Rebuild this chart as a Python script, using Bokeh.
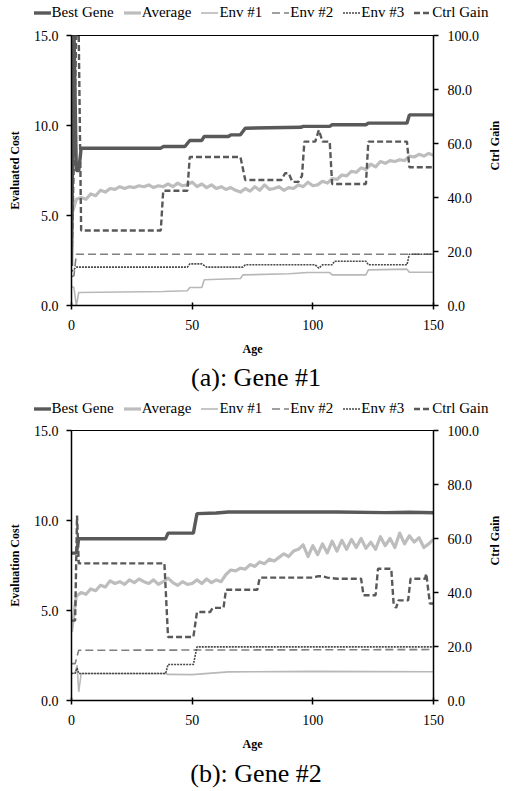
import math
from bokeh.plotting import figure
from bokeh.models import (Range1d, LinearAxis, FixedTicker, PrintfTickFormatter, Div)
from bokeh.layouts import column
from bokeh.embed import file_html
from bokeh.resources import INLINE

# ---------------- Panel (a): Gene #1 ----------------
a_best_age = [0, 1, 2, 3, 4, 37, 38, 47, 49, 54, 55, 65, 66, 70, 72, 95, 96, 107, 108, 122, 123, 139, 140, 150]
a_best = [2.2, 15.5, 7.5, 7.5, 8.74, 8.74, 8.83, 8.83, 9.17, 9.17, 9.39, 9.39, 9.48, 9.48, 9.85, 9.9, 9.95, 9.95, 10.04, 10.04, 10.13, 10.13, 10.59, 10.59]

a_avg_age = [0, 2, 4, 6, 8, 10, 12, 14, 16, 18, 20, 22, 24, 26, 28, 30, 32, 34, 36, 38, 40, 42, 44, 46, 48, 50,
             52, 54, 56, 58, 60, 62, 64, 66, 68, 70, 72, 74, 76, 78, 80, 82, 84, 86, 88, 90, 92, 94, 96, 98, 100,
             102, 104, 106, 108, 110, 112, 114, 116, 118, 120, 122, 124, 126, 128, 130, 132, 134, 136, 138, 140,
             142, 144, 146, 148, 150]
a_avg = [5.0, 5.9, 6.0, 5.9, 6.2, 6.1, 6.4, 6.3, 6.5, 6.45, 6.6, 6.5, 6.6, 6.55, 6.65, 6.6, 6.7, 6.55, 6.65, 6.6,
         6.75, 6.6, 6.8, 6.65, 6.7, 6.85, 6.6, 6.75, 6.55, 6.7, 6.5, 6.6, 6.45, 6.55, 6.4, 6.3, 6.5, 6.35, 6.6, 6.4,
         6.7, 6.45, 6.5, 6.6, 6.4, 6.55, 6.5, 6.7, 6.6, 6.85, 6.65, 6.7, 6.9, 6.8, 7.05, 7.0, 7.25, 7.2, 7.45, 7.4,
         7.65, 7.55, 7.85, 7.7, 8.0, 7.9, 8.05, 8.0, 8.1, 8.05, 8.3, 8.25, 8.4, 8.3, 8.45, 8.35]

a_env1_age = [0, 1, 2, 3, 38, 48, 49, 54, 55, 70, 71, 90, 98, 107, 108, 122, 123, 139, 140, 150]
a_env1 = [1.06, 1.0, 0.0, 0.72, 0.78, 0.82, 1.0, 1.0, 1.43, 1.5, 1.7, 1.76, 1.83, 1.83, 1.7, 1.7, 1.98, 2.02, 1.85, 1.85]

a_env2_age = [0, 1, 2, 150]
a_env2 = [1.6, 1.65, 2.85, 2.85]

a_env3_age = [0, 1, 2, 48, 49, 54, 56, 71, 72, 101, 102.5, 104, 108, 109, 122, 123, 139, 140, 150]
a_env3 = [1.9, 2.0, 2.13, 2.13, 2.31, 2.31, 2.13, 2.13, 2.26, 2.26, 2.07, 2.26, 2.26, 2.46, 2.46, 2.26, 2.26, 2.85, 2.85]

a_gain_age = [0, 1, 2, 3, 4, 37, 38, 48, 49, 70, 72, 87, 88.5, 90, 91.5, 94, 95.5, 96.5, 101, 102.5, 104, 107, 108,
              122, 123, 139, 140, 150]
a_gain = [15, 55, 104, 100, 27.8, 27.8, 42.5, 42.5, 55, 55, 46.5, 46.5, 49, 49, 45.8, 45.8, 48, 60.7, 60.7, 65, 60.7,
          60.7, 45, 45, 60.7, 60.7, 51.2, 51.2]

# ---------------- Panel (b): Gene #2 ----------------
b_best_age = [0, 2, 3, 39, 40, 50.5, 52, 60, 65, 110, 130, 140, 150]
b_best = [8.19, 8.19, 8.99, 8.99, 9.3, 9.3, 10.38, 10.42, 10.47, 10.47, 10.44, 10.46, 10.43]

b_avg_age = a_avg_age
b_avg = [3.8, 5.8, 6.0, 5.9, 6.2, 6.1, 6.4, 6.3, 6.65, 6.5, 6.6, 6.45, 6.7, 6.55, 6.75, 6.6, 6.5, 6.7, 6.45, 6.6,
         6.8, 6.55, 6.4, 6.6, 6.45, 6.5, 6.7, 6.5, 6.75, 6.55, 6.7, 6.6, 7.0, 7.25, 7.2, 7.35, 7.3, 7.55, 7.45, 7.7,
         7.6, 7.85, 7.75, 7.95, 8.15, 8.0, 8.3, 8.4, 8.65, 8.0, 8.6, 8.1, 8.7, 8.2, 8.85, 8.3, 8.9, 8.4, 8.95, 8.5,
         9.0, 8.45, 8.8, 8.4, 9.1, 8.6, 9.0, 8.5, 9.3, 8.7, 9.15, 8.8, 9.05, 8.5, 8.7, 8.95]

b_env1_age = [0, 1.5, 2.3, 3, 4, 39, 40, 50, 65, 100, 150]
b_env1 = [1.5, 1.5, 1.96, 0.48, 1.5, 1.5, 1.45, 1.44, 1.59, 1.62, 1.6]

b_env2_age = [0, 1.5, 3, 150]
b_env2 = [2.05, 2.05, 2.79, 2.83]

b_env3_age = [0, 1.5, 2.3, 3, 39, 40, 50.5, 52, 150]
b_env3 = [1.5, 1.52, 1.8, 1.5, 1.5, 2.0, 2.0, 2.98, 2.98]

b_gain_age = [0, 1.5, 2.3, 3, 38.5, 40, 50.5, 52, 57.5, 58.5, 63, 64, 77, 78, 100, 102, 104, 106, 110, 120, 121,
              126, 127, 132.5, 133.5, 134.5, 135.5, 139.5, 140.5, 146.5, 147, 148.5, 150]
b_gain = [29.6, 29.6, 68.5, 50.8, 50.8, 23.5, 23.5, 32.8, 32.8, 34.3, 34.3, 41, 41, 45.5, 45.5, 46, 46, 45.5, 45.1,
          45.1, 39, 39, 48.8, 48.8, 35.5, 34.3, 37.1, 37.1, 45.1, 45.1, 47, 35.9, 35.9]

series_names = ["Best Gene", "Average", "Env #1", "Env #2", "Env #3", "Ctrl Gain"]
x_ticks = [0, 50, 100, 150]
y_ticks = [0, 5, 10, 15]
gain_ticks = [0, 20, 40, 60, 80, 100]

SERIF = "Liberation Serif"
W = 512

STYLES = [
    dict(line_color="#595959", line_width=3.4),                      # Best Gene
    dict(line_color="#bdbdbd", line_width=3.2, line_join="round"),   # Average
    dict(line_color="#b8b8b8", line_width=1.6),                      # Env #1
    dict(line_color="#808080", line_width=1.6, line_dash="8 4"),     # Env #2
    dict(line_color="#4a4a4a", line_width=1.6, line_dash="2 1"),     # Env #3
    dict(line_color="#595959", line_width=2.4, line_dash="6 3"),     # Ctrl Gain
]


def style_axis(ax):
    ax.axis_line_color = "black"
    ax.axis_line_width = 1.5
    ax.major_tick_line_color = "black"
    ax.major_tick_line_width = 1.5
    ax.minor_tick_line_color = None
    ax.major_label_text_font = SERIF
    ax.major_label_text_font_size = "14px"
    ax.major_label_text_color = "black"
    ax.axis_label_text_font = SERIF
    ax.axis_label_text_font_style = "bold"
    ax.axis_label_text_font_size = "12px"
    ax.axis_label_text_color = "black"


def make_legend(height):
    # horizontal legend strip above the plot frame (HTML text + small line samples)
    parts = []
    for name, st in zip(series_names, STYLES):
        dash = st.get("line_dash")
        da = ' stroke-dasharray="%s"' % dash.replace(" ", ",") if dash else ""
        parts.append(
            '<span style="display:inline-flex;align-items:center;margin:0 5px;white-space:nowrap;">'
            '<svg width="17" height="8" style="margin-right:1px;display:block">'
            '<line x1="0" y1="4" x2="17" y2="4" stroke="%s" stroke-width="%s"%s/></svg>%s</span>'
            % (st["line_color"], st["line_width"], da, name))
    html = ('<div style="width:%dpx;height:%dpx;padding-left:10px;box-sizing:border-box;display:flex;'
            'justify-content:center;align-items:center;font-family:\'%s\';font-size:15px;color:black;">%s</div>'
            % (W, height, SERIF, "".join(parts)))
    return Div(text=html, width=W, height=height,
               styles={"margin": "0", "padding": "0", "overflow": "hidden"})


def make_caption(text, height, line_height):
    return Div(text=text, width=W, height=height,
               styles={"font-family": SERIF, "font-size": "26px", "text-align": "center",
                       "line-height": "%dpx" % line_height, "color": "black", "margin": "0",
                       "padding": "0", "overflow": "hidden", "width": "%dpx" % W})


def make_panel(ylabel, data, height, top_border, bottom_border):
    p = figure(width=W, height=height, output_backend="svg", toolbar_location=None,
               x_range=Range1d(0, 150), y_range=Range1d(0, 15),
               min_border_left=71, min_border_right=71, min_border_top=top_border,
               min_border_bottom=bottom_border)
    p.extra_y_ranges = {"gain": Range1d(0, 100)}
    p.xgrid.visible = False
    p.ygrid.visible = False
    p.outline_line_color = "black"
    p.outline_line_width = 1
    p.background_fill_color = "white"
    p.border_fill_color = "white"

    order = [2, 3, 4, 1, 5, 0]
    for i in order:
        xs, ys = data[i]
        if i == 5:
            p.line(xs, ys, y_range_name="gain", **STYLES[i])
        else:
            p.line(xs, ys, **STYLES[i])

    xa = p.xaxis[0]
    style_axis(xa)
    xa.ticker = FixedTicker(ticks=x_ticks)
    xa.major_tick_in = 3
    xa.major_tick_out = 4
    xa.major_label_standoff = 10
    xa.axis_label = "Age"
    xa.axis_label_standoff = 9

    ya = p.yaxis[0]
    style_axis(ya)
    ya.ticker = FixedTicker(ticks=y_ticks)
    ya.formatter = PrintfTickFormatter(format="%.1f")
    ya.major_tick_in = 0
    ya.major_tick_out = 5
    ya.major_label_standoff = 8
    ya.axis_label = ylabel
    ya.axis_label_standoff = 9

    ra = LinearAxis(y_range_name="gain", ticker=FixedTicker(ticks=gain_ticks),
                    formatter=PrintfTickFormatter(format="%.1f"))
    style_axis(ra)
    ra.major_tick_in = 0
    ra.major_tick_out = 5
    ra.major_label_standoff = 9
    ra.axis_label = "Ctrl Gain"
    ra.axis_label_standoff = 13
    ra.axis_label_orientation = math.pi / 2
    p.add_layout(ra, "right")
    return p


a_data = [(a_best_age, a_best), (a_avg_age, a_avg), (a_env1_age, a_env1),
          (a_env2_age, a_env2), (a_env3_age, a_env3), (a_gain_age, a_gain)]
b_data = [(b_best_age, b_best), (b_avg_age, b_avg), (b_env1_age, b_env1),
          (b_env2_age, b_env2), (b_env3_age, b_env3), (b_gain_age, b_gain)]

leg_a = make_legend(26)
pa = make_panel("Evaluated Cost", a_data, 332, 9, 53)
cap_a = make_caption("(a): Gene #1", 40, 40)
leg_b = make_legend(22)
pb = make_panel("Evaluation Cost", b_data, 333, 10, 53)
cap_b = make_caption("(b): Gene #2", 37, 42)

layout = column(leg_a, pa, cap_a, leg_b, pb, cap_b, spacing=0)
open("out.html", "w").write(file_html(layout, INLINE))
